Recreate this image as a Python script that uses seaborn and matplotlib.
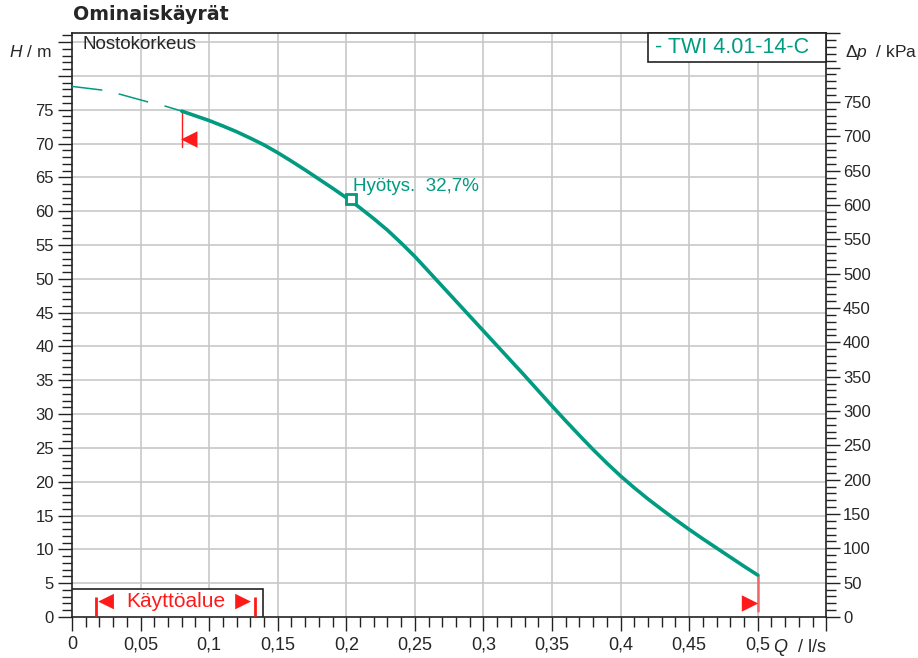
import numpy as np
import matplotlib
matplotlib.use('Agg')
import matplotlib.pyplot as plt
from matplotlib.ticker import MultipleLocator
from matplotlib.patches import Rectangle
import seaborn as sns

# pump curve (Q in l/s, H in m)
q_ext = [0.0, 0.0222, 0.0348, 0.0563, 0.0685, 0.08]
h_ext = [78.45, 77.9, 77.3, 76.1, 75.5, 74.8]

q_curve = [0.08, 0.09, 0.10, 0.11, 0.12, 0.13, 0.14, 0.15, 0.16, 0.17,
           0.18, 0.19, 0.20, 0.21, 0.22, 0.23, 0.24, 0.25, 0.26, 0.27,
           0.28, 0.29, 0.30, 0.31, 0.32, 0.33, 0.34, 0.35, 0.36, 0.37,
           0.38, 0.39, 0.40, 0.41, 0.42, 0.43, 0.44, 0.45, 0.46, 0.47,
           0.48, 0.49, 0.50]
h_curve = [74.8, 74.1, 73.4, 72.6, 71.75, 70.8, 69.8, 68.65, 67.4, 66.1,
           64.75, 63.4, 62.0, 60.5, 58.9, 57.2, 55.3, 53.3, 51.1, 48.9,
           46.7, 44.5, 42.3, 40.1, 37.9, 35.7, 33.45, 31.2, 29.0, 26.85,
           24.75, 22.75, 20.85, 19.1, 17.45, 15.9, 14.4, 12.95, 11.55, 10.2,
           8.85, 7.5, 6.2]

# duty point
q_duty = [0.2038]
h_duty = [61.8]
eff_label = 'Hyötys.  32,7%'

# operating range limits
q_min, h_min_top, h_min_bot = 0.08, 74.8, 69.5
q_max, h_max_top, h_max_bot = 0.5, 6.2, 0.9
q_min_flag, h_min_flag = [0.0855], [70.6]
q_max_flag, h_max_flag = [0.4944], [2.0]

x_ticks = [0, 0.05, 0.1, 0.15, 0.2, 0.25, 0.3, 0.35, 0.4, 0.45, 0.5, 0.55]
x_labels = ['0', '0,05', '0,1', '0,15', '0,2', '0,25', '0,3', '0,35',
            '0,4', '0,45', '0,5', '']
h_ticks = list(range(0, 90, 5))
h_labels = [str(v) if v <= 75 else '' for v in h_ticks]
p_ticks = list(range(0, 900, 50))
p_labels = [str(v) if v <= 750 else '' for v in p_ticks]

H_MAX = 86.3
KPA_PER_M = 9.78
GREEN = '#009b80'
RED = '#ff1a1a'

sns.set_style('white')
plt.rcParams['font.family'] = ['Liberation Sans', 'DejaVu Sans']
plt.rcParams['mathtext.fontset'] = 'custom'
plt.rcParams['mathtext.it'] = 'Liberation Sans:italic'
plt.rcParams['mathtext.rm'] = 'Liberation Sans'

fig = plt.figure(figsize=(9.18, 6.58), dpi=100)
ax = fig.add_axes([0.0784, 0.0623, 0.8217, 0.8871])

# grid
for v in x_ticks[1:-1]:
    ax.axvline(v, color='#c8c8c8', lw=1.2, zorder=0)
for v in h_ticks[1:]:
    ax.axhline(v, color='#c8c8c8', lw=1.2, zorder=0)

# curves
sns.lineplot(x=q_ext, y=h_ext, ax=ax, color=GREEN, lw=1.1,
             linestyle=(0, (20, 11)), zorder=3)
sns.lineplot(x=q_curve, y=h_curve, ax=ax, color=GREEN, lw=2.6, zorder=4)

# operating range markers
ax.plot([q_min, q_min], [h_min_top, h_min_bot], color=RED, lw=1.0, zorder=3)
ax.plot([q_max, q_max], [h_max_top, h_max_bot], color='#ee6a6a', lw=1.8, zorder=3)
sns.scatterplot(x=q_min_flag, y=h_min_flag, ax=ax, marker='<', s=140,
                color=RED, edgecolor='none', zorder=5)
sns.scatterplot(x=q_max_flag, y=h_max_flag, ax=ax, marker='>', s=140,
                color=RED, edgecolor='none', zorder=5)

# duty point
ax.plot(q_duty, h_duty, marker='s', ms=7, mfc='white', mec=GREEN, mew=2,
        ls='none', zorder=6)
ax.annotate(eff_label, (q_duty[0], h_duty[0]), xytext=(1, 3),
            textcoords='offset points', color=GREEN, fontsize=13.5,
            ha='left', va='bottom')

ax.set_xlim(0, 0.55)
ax.set_ylim(0, H_MAX)
ax.set_xticks(x_ticks)
ax.set_xticklabels(x_labels)
ax.set_yticks(h_ticks)
ax.set_yticklabels(h_labels)
ax.xaxis.set_minor_locator(MultipleLocator(0.01))
ax.yaxis.set_minor_locator(MultipleLocator(1))
ax.tick_params(axis='x', which='major', direction='out', length=10, width=1,
               labelsize=13, pad=4, color='#222222', bottom=True)
ax.tick_params(axis='x', which='minor', direction='out', length=7, width=1,
               color='#222222', bottom=True)
ax.tick_params(axis='y', which='major', direction='out', length=10, width=1,
               labelsize=12, pad=3, color='#222222', left=True)
ax.tick_params(axis='y', which='minor', direction='out', length=7, width=1,
               color='#222222', left=True)
ax.set_xlabel('')
ax.set_ylabel('')
for s in ax.spines.values():
    s.set_color('#222222')
    s.set_linewidth(1.2)

# right axis in kPa
ax2 = ax.twinx()
ax2.set_ylim(0, H_MAX * KPA_PER_M)
ax2.set_yticks(p_ticks)
ax2.set_yticklabels(p_labels)
ax2.yaxis.set_minor_locator(MultipleLocator(10))
ax2.tick_params(axis='y', which='major', direction='out', length=10, width=1,
                labelsize=12, pad=2, color='#222222', right=True)
ax2.tick_params(axis='y', which='minor', direction='out', length=7, width=1,
                color='#222222', right=True)
for s in ax2.spines.values():
    s.set_visible(False)

# texts
fig.text(73 / 918, 1 - 15 / 658, 'Ominaiskäyrät', fontsize=13.7, fontweight='bold',
         family='DejaVu Sans', ha='left', va='center')
ax.text(0.0146, 0.98, 'Nostokorkeus', transform=ax.transAxes, fontsize=13.5,
        ha='left', va='center')
fig.text(9 / 918, 1 - 52 / 658, r'$H$ / m', fontsize=12.5, ha='left', va='center')
fig.text(845 / 918, 1 - 52 / 658, r'$\Delta p$  / kPa', fontsize=12.5,
         ha='left', va='center')
fig.text(826 / 918, 1 - 647 / 658, r'$Q$  / l/s', fontsize=13,
         ha='right', va='center')

# series label box
ax.add_patch(Rectangle((0.7632, 0.9508), 0.2368, 0.0492, transform=ax.transAxes,
                       fc='white', ec='#222222', lw=1.2, zorder=7, clip_on=False))
ax.text(0.773, 0.975, '- TWI 4.01-14-C', transform=ax.transAxes, color=GREEN,
        fontsize=15.5, ha='left', va='center', zorder=8)

# operating range legend
ax.add_patch(Rectangle((0, 0), 0.2532, 0.048, transform=ax.transAxes,
                       fc='white', ec='#222222', lw=1.2, zorder=7))
ax.text(0.1372, 0.026, 'Käyttöalue', transform=ax.transAxes, color=RED,
        fontsize=15, ha='center', va='center', zorder=8)
ax.text(0.0451, 0.026, '◄', transform=ax.transAxes, color=RED,
        fontsize=19, ha='center', va='center', zorder=8)
ax.text(0.2267, 0.026, '►', transform=ax.transAxes, color=RED,
        fontsize=19, ha='center', va='center', zorder=8)
for xb in (0.0318, 0.2426):
    ax.plot([xb, xb], [0.001, 0.034], transform=ax.transAxes, color=RED,
            lw=2, zorder=8, solid_capstyle='butt')

fig.savefig('out.png', dpi=100)
